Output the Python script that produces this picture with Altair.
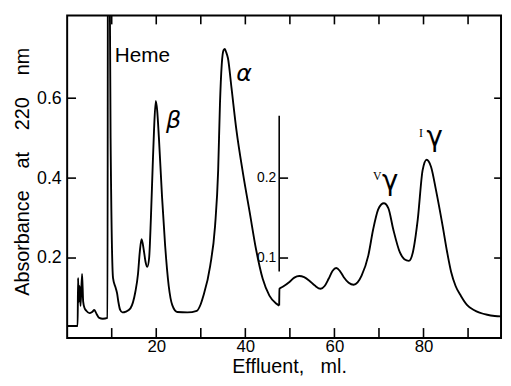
import altair as alt
import pandas as pd

# ---- data (effluent in ml, absorbance at 220 nm) ----
# Segment 1: plotted on the main absorbance scale (left axis)
X1 = [0.0, 2.1, 2.35, 2.45, 2.6, 2.8, 3.0, 3.35, 3.6, 3.9, 4.3, 5.0, 5.6, 6.1, 6.6, 7.2, 8.0,
      9.05, 9.2, 9.75, 10.3, 10.9, 11.2, 11.5, 11.9, 12.4, 13.2, 14.2, 15.3, 15.9, 16.3, 16.7,
      17.2, 17.6, 18.0, 18.4, 18.8, 19.2, 19.5, 19.9, 20.2, 20.6, 21.3, 22.0, 22.8, 23.6, 24.7,
      27.0, 29.1, 30.0, 30.6, 32.1, 33.2, 33.9, 34.3, 34.7, 35.1, 35.4, 35.7, 36.1, 36.9, 38.0,
      39.5, 41.0, 42.4, 43.9, 45.4, 46.9, 47.6]
Y1 = [0.03, 0.03, 0.03, 0.15, 0.09, 0.13, 0.08, 0.16, 0.09, 0.075, 0.068, 0.062, 0.065, 0.07,
      0.06, 0.05, 0.048,
      0.05, 1.5, 0.5, 0.15, 0.125, 0.112, 0.09, 0.07, 0.064, 0.066, 0.074, 0.115, 0.16, 0.215, 0.247,
      0.22, 0.19, 0.178, 0.2, 0.3, 0.43, 0.52, 0.593, 0.57, 0.5, 0.353, 0.23, 0.13, 0.082, 0.065,
      0.064, 0.068, 0.085, 0.106, 0.18, 0.28, 0.42, 0.585, 0.684, 0.72, 0.723, 0.715, 0.70, 0.625, 0.52,
      0.41, 0.313, 0.222, 0.148, 0.106, 0.086, 0.081]

# Segment 2: values on the expanded inset scale (inset axis 0.1 / 0.2)
X2 = [47.6, 47.65, 48.4, 49.9, 51.0, 52.1, 53.2, 54.3, 55.6, 56.9, 57.8, 58.7, 59.6, 60.4, 61.2,
      62.1, 63.2, 64.3, 65.2, 66.1, 67.6, 68.7, 69.8, 70.5, 71.1, 72.1, 73.2, 74.7, 75.7, 76.7,
      77.6, 78.7, 79.8, 80.7, 81.7, 82.8, 84.3, 85.3, 86.2, 87.2, 88.4, 89.8, 91.3, 94.3, 96.0, 97.4]
Y2 = [0.0405, 0.0615, 0.064, 0.07, 0.0755, 0.0775, 0.076, 0.072, 0.0655, 0.0615, 0.065, 0.074,
      0.084, 0.0875, 0.084, 0.076, 0.069, 0.0665, 0.0695, 0.078, 0.103, 0.136, 0.1605, 0.167,
      0.1685, 0.1625, 0.136, 0.107, 0.0985, 0.0965, 0.107, 0.148, 0.21, 0.223, 0.214, 0.185,
      0.14, 0.1075, 0.0825, 0.065, 0.0525, 0.041, 0.035, 0.029, 0.0275, 0.027]
INSET_EXPANSION = 2  # inset axis is expanded 2x relative to the main axis

Y_TICKS = [0.2, 0.4, 0.6]
X_TICKS = [10, 20, 30, 40, 50, 60, 70, 80, 90]
X_LABELS = [20, 40, 60, 80]

INSET_X = 47.6
INSET_SPAN = [0.083, 0.278]
INSET_TICKS = [0.1, 0.2]
INSET_TICK_LABELS = ["0.1", "0.2"]

# annotations (label, x in ml, y in absorbance units of the main scale)
HEME = (["Heme"], [10.7], [0.691])
GREEK = (["\u03b2", "\u03b1"], [23.9, 39.7], [0.526, 0.642])
GAMMA = (["\u03b3", "\u03b3"], [72.5, 82.5], [0.37, 0.481])
ROMAN = (["V", "I"], [69.6, 79.4], [0.395, 0.504])

W, H = 440, 327
XD = [0, 97.4]
YD = [0, 0.807]

xs = alt.Scale(domain=XD, nice=False, zero=False)
ys = alt.Scale(domain=YD, nice=False)

df1 = pd.DataFrame({"x": X1, "y": Y1})
df2 = pd.DataFrame({"x": X2, "y": Y2})

ytitle = "\u00a0\u00a0\u00a0\u00a0".join(["Absorbance", "at", "220", "nm"])
xtitle = "Effluent,\u00a0\u00a0\u00a0ml."

main_line = alt.Chart(df1).mark_line(
    color="black", strokeWidth=1.9, interpolate="monotone", clip=True
).encode(
    x=alt.X("x:Q", scale=xs, title=xtitle, axis=alt.Axis(
        orient="bottom", values=X_LABELS, format="d", labelPadding=1, labelFontSize=17,
        titleFontSize=20, titleX=225, titleY=35,
        titleBaseline="alphabetic", titleAlign="center")),
    y=alt.Y("y:Q", scale=ys, title=ytitle, axis=alt.Axis(
        values=Y_TICKS, format=".1f", labelPadding=6,
        titleFontSize=20, titleX=-45, titleY=158, titleAngle=270,
        titleAlign="center", titleBaseline="middle")),
)

ydf = pd.DataFrame({"v": Y_TICKS})
xdf = pd.DataFrame({"v": X_TICKS})

def xenc(field):
    return alt.X(field, scale=xs, title=xtitle)

def yenc(field):
    return alt.Y(field, scale=ys, title=ytitle)

left_ticks = alt.Chart(ydf).mark_rule(color="black", strokeWidth=1.6).encode(
    y=yenc("v:Q"), x=alt.value(0), x2=alt.value(9))
right_ticks = alt.Chart(ydf).mark_rule(color="black", strokeWidth=1.6).encode(
    y=yenc("v:Q"), x=alt.value(W - 7), x2=alt.value(W))
bottom_ticks = alt.Chart(xdf).mark_rule(color="black", strokeWidth=1.6).encode(
    x=xenc("v:Q"), y=alt.value(H - 10), y2=alt.value(H))
top_ticks = alt.Chart(xdf).mark_rule(color="black", strokeWidth=1.6).encode(
    x=xenc("v:Q"), y=alt.value(0), y2=alt.value(9))

def text_layer(spec, font, size, style="normal", align="center"):
    d = pd.DataFrame({"t": spec[0], "x": spec[1], "y": spec[2]})
    return alt.Chart(d).mark_text(
        font=font, fontSize=size, fontStyle=style, align=align,
        baseline="alphabetic", color="black"
    ).encode(x=xenc("x:Q"), y=yenc("y:Q"), text="t:N")

heme_t = text_layer(HEME, "Liberation Sans", 21, align="left")
greek_t = text_layer(GREEK, "DejaVu Sans", 24, style="italic")
gamma_t = text_layer(GAMMA, "DejaVu Sans", 28)
roman_t = text_layer(ROMAN, "Liberation Serif", 12)

expand = f"datum.y * {INSET_EXPANSION}"

# inset (expanded scale) layers
inset_line = alt.Chart(df2).transform_calculate(yp=expand).mark_line(
    color="black", strokeWidth=1.9, interpolate="monotone", clip=True
).encode(x=xenc("x:Q"), y=yenc("yp:Q"))

inset_axis = alt.Chart(pd.DataFrame({"x": [INSET_X], "a": [INSET_SPAN[0]], "b": [INSET_SPAN[1]]})
                       ).transform_calculate(
    ap=f"datum.a * {INSET_EXPANSION}", bp=f"datum.b * {INSET_EXPANSION}"
).mark_rule(color="black", strokeWidth=1.6).encode(
    x=xenc("x:Q"), y=yenc("ap:Q"), y2="bp:Q")

itdf = pd.DataFrame({"x": INSET_X, "y": INSET_TICKS, "t": INSET_TICK_LABELS})
inset_ticks = alt.Chart(itdf).transform_calculate(yp=expand).mark_rule(
    color="black", strokeWidth=1.6, x2Offset=9).encode(
    x=xenc("x:Q"), x2="x:Q", y=yenc("yp:Q"))
inset_labels = alt.Chart(itdf).transform_calculate(yp=expand).mark_text(
    font="Liberation Sans", fontSize=14, align="right", baseline="middle",
    dx=-3, color="black").encode(
    x=xenc("x:Q"), y=yenc("yp:Q"), text="t:N")

chart = alt.layer(
    main_line, left_ticks, right_ticks, bottom_ticks, top_ticks,
    heme_t, greek_t, gamma_t, roman_t,
    inset_line, inset_axis, inset_ticks, inset_labels,
).properties(
    width=W, height=H,
    padding={"left": 60, "top": 5, "right": 2, "bottom": 36},
    autosize=alt.AutoSizeParams(type="none"),
    background="white",
).configure_view(
    stroke="black", strokeWidth=2
).configure_axis(
    grid=False, domain=False, ticks=False,
    labelFont="Liberation Sans", labelFontSize=18, labelColor="black",
    titleFont="Liberation Sans", titleColor="black", titleFontWeight="normal",
)

chart.save("out.html", embed_options={"renderer": "svg", "actions": False})
